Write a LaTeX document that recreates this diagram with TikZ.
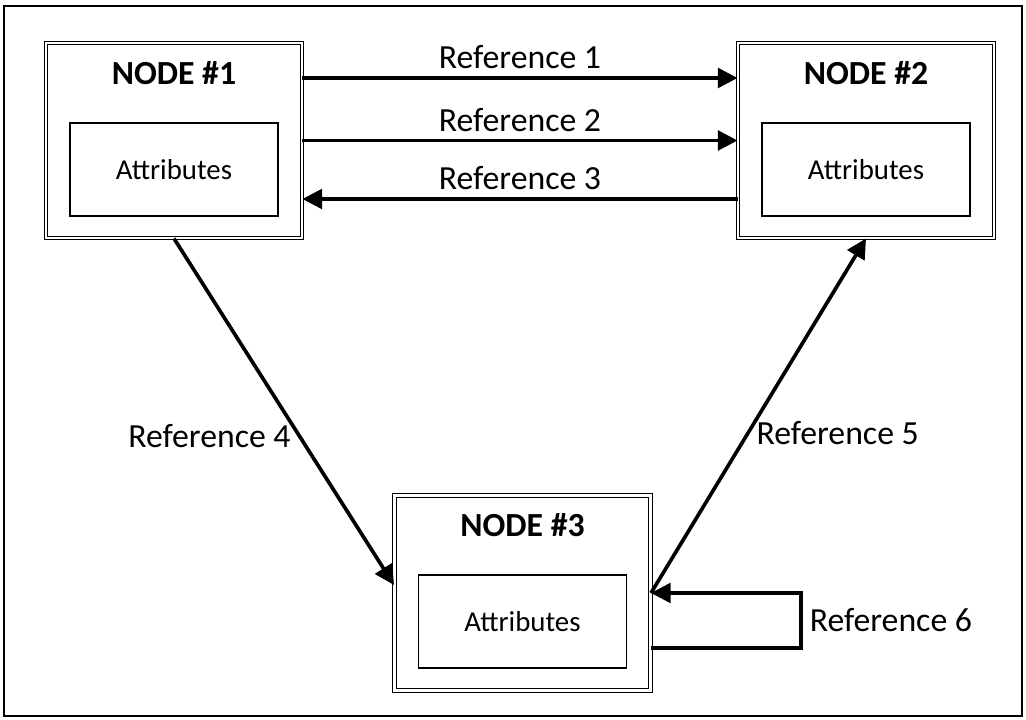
\documentclass[tikz,border=0pt]{standalone}
\usepackage{fontspec}
\setmainfont{Carlito}
\usetikzlibrary{arrows.meta,calc}
\begin{document}
\begin{tikzpicture}[x=0.025cm,y=-0.025cm,
    objet/.style={draw,double,line width=0.7pt,double distance=1.6pt,
        minimum width=256*0.025cm,minimum height=195*0.025cm},
    titre/.style={font=\fontsize{24}{28}\selectfont\bfseries},
    attr/.style={draw,line width=0.8pt,minimum width=208*0.025cm,
        minimum height=93*0.025cm,font=\fontsize{20.5}{24}\selectfont},
    fleche/.style={line width=2.6pt,-{Triangle[length=14pt,width=14pt]}},
    ref/.style={font=\fontsize{24}{28}\selectfont,inner sep=5pt}]
    \useasboundingbox (0,0) rectangle (1026,720);
    \draw [line width=1.8pt] (4,6) rectangle (1022,716);
    % les trois objets
    \node [objet] (n1) at (174,140.5) {};
    \node [titre] (t1) at (174,73) {NODE \#1};
    \node [attr] (a1) at (174,169.5) {Attributes};
    \node [objet] (n2) at (866,140.5) {};
    \node [titre] (t2) at (866,73) {NODE \#2};
    \node [attr] (a2) at (866,169.5) {Attributes};
    \node [objet] (n3) at (522.5,593) {};
    \node [titre] (t3) at (522.5,525) {NODE \#3};
    \node [attr] (a3) at (522.5,621.5) {Attributes};
    % references
    \draw [fleche] ($(n1.east)+(0,-62.5)$) -- node [ref,above]{Reference 1} ($(n2.west)+(0,-62.5)$);
    \draw [fleche] (n1.east) -- node [ref,above]{Reference 2} (n2.west);
    \draw [fleche] ($(n2.west)+(0,58.5)$) -- node [ref,above]{Reference 3} ($(n1.east)+(0,58.5)$);
    \draw [fleche] (n1.south) -- node [ref,pos=0.57,left]{Reference 4} ($(n3.west)+(0,-8)$);
    \draw [fleche] (n3.east) -- node [ref,pos=0.45,right]{Reference 5} (n2.south);
    \draw [fleche] ($(n3.east)+(0,55)$) -- ++(150,0) |- node [ref,pos=0.25,right]{Reference 6} (n3.east);
\end{tikzpicture}
\end{document}
